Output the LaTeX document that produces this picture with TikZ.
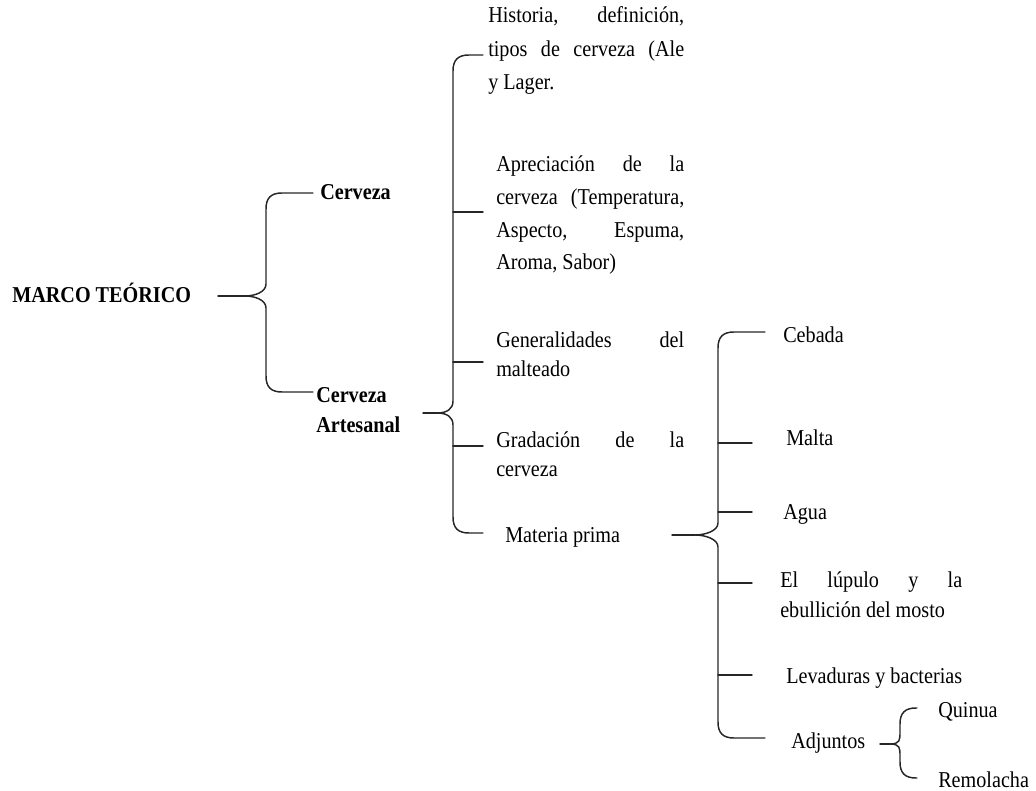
\documentclass[tikz,border=0pt]{standalone}
\usepackage{fontspec}
\setmainfont{Liberation Serif}[FakeStretch=0.89]

% Curly brace opening to the right:
% #1 spine x, #2 cusp x, #3 top y, #4 cusp y, #5 bottom y, #6 hook end x
\newcommand\drawcurlybrace[6]{%
  \draw[bracket] (#6,#3) -- ({#1+16},#3)
    .. controls ({#1+5},#3) and (#1,{#3+5}) .. (#1,{#3+16})
    -- (#1,{#4-12})
    .. controls (#1,{#4-4}) and ({#2+10},#4) .. (#2,#4)
    .. controls ({#2+10},#4) and (#1,{#4+4}) .. (#1,{#4+12})
    -- (#1,{#5-16})
    .. controls (#1,{#5-5}) and ({#1+5},#5) .. ({#1+16},#5)
    -- (#6,#5);}

\begin{document}
\begin{tikzpicture}[x=0.75pt,y=-0.75pt,
  bracket/.style={line width=1.1pt,draw=black!85,line cap=round,line join=round},
  lbl/.style={inner sep=0pt,anchor=base west,text=black,
    font=\fontsize{17}{22.5}\selectfont},
  bold/.style={lbl,font=\fontsize{17}{22.5}\selectfont\bfseries},
  block/.style={lbl,align=justify,
    execute at begin node={\hyphenpenalty=10000\exhyphenpenalty=10000}}]
\useasboundingbox (0,0) rectangle (1036,791);

% ---- texts ----
\node[bold] (marco) at (12,303) {MARCO TEÓRICO};
\node[bold] (cerveza) at (320,200) {Cerveza};
\node[bold,text width=80pt,align=left] (artesanal) at (316,403) {Cerveza\\Artesanal};

\node[block,text width=147pt,font=\fontsize{17}{25.1}\selectfont] (historia) at (488,23)
  {Historia, definición,\linebreak tipos de cerveza (Ale\linebreak y Lager.};
\node[block,text width=141pt,font=\fontsize{17}{24.5}\selectfont] (aprec) at (496,172)
  {Apreciación de la\linebreak cerveza (Temperatura,\linebreak Aspecto, Espuma,\linebreak Aroma, Sabor)};
\node[block,text width=141pt,font=\fontsize{17}{21.75}\selectfont] (general) at (496,348)
  {Generalidades del\linebreak malteado};
\node[block,text width=141pt,font=\fontsize{17}{21.75}\selectfont] (gradacion) at (496,448)
  {Gradación de la\linebreak cerveza};
\node[lbl] (materia) at (505,542) {Materia prima};

\node[lbl] (cebada) at (783,343) {Cebada};
\node[lbl] (malta) at (786,446) {Malta};
\node[lbl] (agua) at (783,520) {Agua};
\node[block,text width=136.5pt,font=\fontsize{17}{22.5}\selectfont] (lupulo) at (780,587)
  {El lúpulo y la\linebreak ebullición del mosto};
\node[lbl] (levad) at (786,683) {Levaduras y bacterias};
\node[lbl] (adjuntos) at (791,748) {Adjuntos};
\node[lbl] (quinua) at (938,717) {Quinua};
\node[lbl] (remolacha) at (938,787) {Remolacha};

% ---- lead-in lines ----
\coordinate (l1) at (218,296); \coordinate (c1) at (245,296);
\coordinate (l2) at (423,413); \coordinate (c2) at (437,413);
\coordinate (l3) at (672,535); \coordinate (c3) at (695,535);
\coordinate (l4) at (880,744); \coordinate (c4) at (890,744);
\draw[bracket] (l1) -- (c1);
\draw[bracket] (l2) -- (c2);
\draw[bracket] (l3) -- (c3);
\draw[bracket] (l4) -- (c4);

% ---- braces ----
\drawcurlybrace{266}{245}{193}{296}{392}{313}
\drawcurlybrace{453}{437}{55}{413}{533}{483}
\drawcurlybrace{718}{695}{332}{535}{738}{765}
\drawcurlybrace{900}{890}{708}{744}{778}{917}

% ---- branch ticks ----
\foreach \y in {212,362,446} \draw[bracket] (453,\y) -- (483,\y);
\foreach \y in {443,512,583,675} \draw[bracket] (718,\y) -- (752,\y);
\end{tikzpicture}
\end{document}
